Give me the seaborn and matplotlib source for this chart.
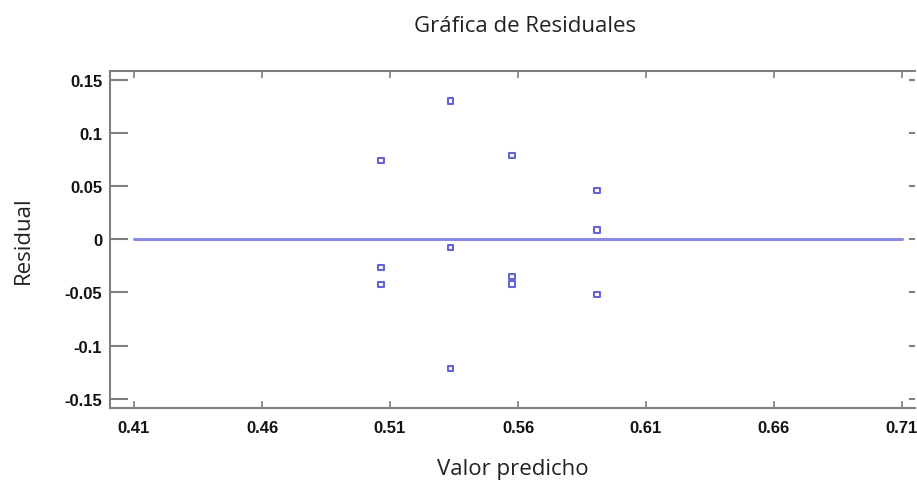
import matplotlib
matplotlib.use("Agg")
import matplotlib.pyplot as plt
from matplotlib.font_manager import FontProperties
import seaborn as sns
import pandas as pd

# Data
predicted = [0.5065, 0.5065, 0.5065,
             0.5337, 0.5337, 0.5337,
             0.5577, 0.5577, 0.5577,
             0.5909, 0.5909, 0.5909]
residuals = [0.0742, -0.0266, -0.0426,
             0.1297, -0.0078, -0.1212,
             0.0784, -0.0351, -0.0419,
             0.0455, 0.0088, -0.0520]
zero_x = [0.41, 0.71]
zero_y = [0.0, 0.0]
x_ticks = [0.41, 0.46, 0.51, 0.56, 0.61, 0.66, 0.71]
y_ticks = [-0.15, -0.1, -0.05, 0, 0.05, 0.1, 0.15]
x_tick_labels = ["0.41", "0.46", "0.51", "0.56", "0.61", "0.66", "0.71"]
y_tick_labels = ["-0.15", "-0.1", "-0.05", "0", "0.05", "0.1", "0.15"]

sns.set_style("white")
plt.rcParams['font.family'] = ['Open Sans', 'DejaVu Sans']

df = pd.DataFrame({"pred": predicted, "res": residuals})
dz = pd.DataFrame({"x": zero_x, "y": zero_y})

W, H = 917, 481
fig = plt.figure(figsize=(W / 100, H / 100), dpi=100)
left_px, right_px, top_px, bottom_px = 110, 915, 72, 409
ax = fig.add_axes([left_px / W, 1 - bottom_px / H,
                   (right_px - left_px) / W, (bottom_px - top_px) / H])

line_color = "#8a8ae8"
sns.lineplot(data=dz, x="x", y="y", ax=ax, color=line_color, linewidth=2.2)
sns.scatterplot(data=df, x="pred", y="res", ax=ax, marker="s", s=15,
                facecolor="none", edgecolor="#6464d6", linewidth=1.5, zorder=3)

# x: 0.41 at px 134, 128 px per 0.05
px_per_unit = 128 / 0.05
ax.set_xlim(0.41 - (134 - left_px) / px_per_unit, 0.41 + (right_px - 134) / px_per_unit)
ax.set_ylim(-0.1585, 0.158)
ax.set_xticks(x_ticks)
ax.set_xticklabels(x_tick_labels)
ax.set_yticks(y_ticks)
ax.set_yticklabels(y_tick_labels)

tick_fp = FontProperties(family="Liberation Sans", weight="bold", size=12)
for lab in ax.get_xticklabels() + ax.get_yticklabels():
    lab.set_fontproperties(tick_fp)

spine_color = "#7f7f7f"
for s in ax.spines.values():
    s.set_color(spine_color)
    s.set_linewidth(1.5)
ax.spines["right"].set_visible(False)

ax.tick_params(axis="y", which="both", direction="in", left=True, right=True,
               length=13, width=1.5, color=spine_color, pad=5.5, labelcolor="#111111")
ax.tick_params(axis="x", which="both", direction="in", bottom=True, top=True,
               length=5, width=1.2, color=spine_color, pad=9, labelcolor="#111111")
for t in ax.yaxis.get_major_ticks():
    t.tick2line.set_markersize(4)

ax.set_xlabel("Valor predicho", fontsize=16, color="#222222", labelpad=16)
ax.set_ylabel("Residual", fontsize=16, color="#222222", labelpad=22)
fig.text(525 / W, 1 - 26 / H, "Gráfica de Residuales", fontsize=16, color="#222222",
         ha="center", va="center")

fig.savefig("out.png", dpi=100)
